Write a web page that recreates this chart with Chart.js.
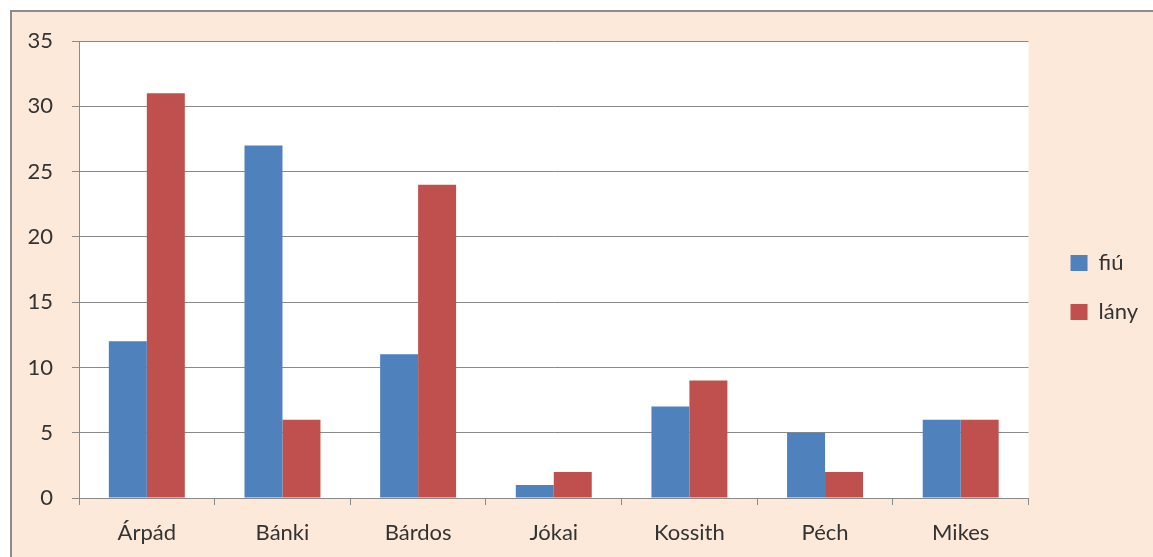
<!DOCTYPE html>
<html>
<head>
<meta charset="utf-8">
<script src="https://cdn.jsdelivr.net/npm/chart.js@4/dist/chart.umd.min.js"></script>
<style>
  html, body { margin: 0; padding: 0; background: #ffffff; }
  #wrap { width: 1153px; height: 557px; position: relative; }
</style>
</head>
<body>
<div id="wrap"><canvas id="chart" width="1153" height="557"></canvas></div>
<script>
// iskolák
const categories = ["Árpád", "Bánki", "Bárdos", "Jókai", "Kossith", "Péch", "Mikes"];
const fiuValues = [12, 27, 11, 1, 7, 5, 6];
const lanyValues = [31, 6, 24, 2, 9, 2, 6];
const yTicks = [0, 5, 10, 15, 20, 25, 30, 35];

const FONT = "Lato, 'Liberation Sans', sans-serif";
const gridColor = "#8a8a8a";

// háttér és keret
const framePlugin = {
  id: "frame",
  beforeDraw(chart) {
    const ctx = chart.ctx;
    ctx.save();
    ctx.fillStyle = "#ffffff";
    ctx.fillRect(0, 0, chart.width, chart.height);
    ctx.fillStyle = "#fde9d9";
    ctx.fillRect(11, 11, chart.width, chart.height);
    ctx.strokeStyle = "#8c8c8c";
    ctx.lineWidth = 2;
    ctx.beginPath();
    ctx.moveTo(11, chart.height + 5);
    ctx.lineTo(11, 11);
    ctx.lineTo(chart.width + 5, 11);
    ctx.stroke();
    const a = chart.chartArea;
    ctx.fillStyle = "#ffffff";
    ctx.fillRect(a.left, a.top, a.right - a.left, a.bottom - a.top);
    ctx.restore();
  }
};

const config = {
  type: "bar",
  data: {
    labels: categories,
    datasets: [
      {
        label: "fiú",
        data: fiuValues,
        backgroundColor: "#4f81bd",
        borderWidth: 0,
        categoryPercentage: 0.56,
        barPercentage: 1.0,
      },
      {
        label: "lány",
        data: lanyValues,
        backgroundColor: "#c0504d",
        borderWidth: 0,
        categoryPercentage: 0.56,
        barPercentage: 1.0,
      },
    ],
  },
  options: {
    responsive: false,
    animation: false,
    layout: { padding: { top: 18, bottom: 0, left: 0, right: 5 } },
    plugins: {
      tooltip: { enabled: false },
      // üres cím: csak helyet foglal a rajzterület fölött
      title: {
        display: true,
        text: "",
        font: { size: 10 },
        padding: { top: 0, bottom: 11 },
      },
      legend: {
        position: "right",
        labels: {
          boxWidth: 17,
          boxHeight: 16,
          padding: 27,
          color: "#333333",
          font: { family: FONT, size: 22 },
        },
      },
    },
    scales: {
      x: {
        grid: {
          drawOnChartArea: false,
          color: gridColor,
          tickLength: 7,
          offset: true,
        },
        border: { color: gridColor, width: 1 },
        ticks: {
          color: "#333333",
          padding: 15,
          font: { family: FONT, size: 22 },
        },
        afterFit(scale) { scale.height = 59; },
      },
      y: {
        min: 0,
        max: 35,
        afterBuildTicks(scale) { scale.ticks = yTicks.map(v => ({ value: v })); },
        grid: { color: gridColor, tickLength: 7 },
        border: { color: gridColor, width: 1 },
        ticks: {
          color: "#333333",
          padding: 19,
          font: { family: FONT, size: 22 },
        },
        afterFit(scale) { scale.width = 79; },
      },
      // láthatatlan térköz a rajzterület és a jelmagyarázat között
      gap: {
        position: "right",
        display: true,
        grid: { display: false },
        border: { display: false },
        ticks: { display: false },
        afterFit(scale) { scale.width = 15; },
      },
    },
  },
  plugins: [framePlugin],
};

new Chart(document.getElementById("chart"), config);
</script>
</body>
</html>
